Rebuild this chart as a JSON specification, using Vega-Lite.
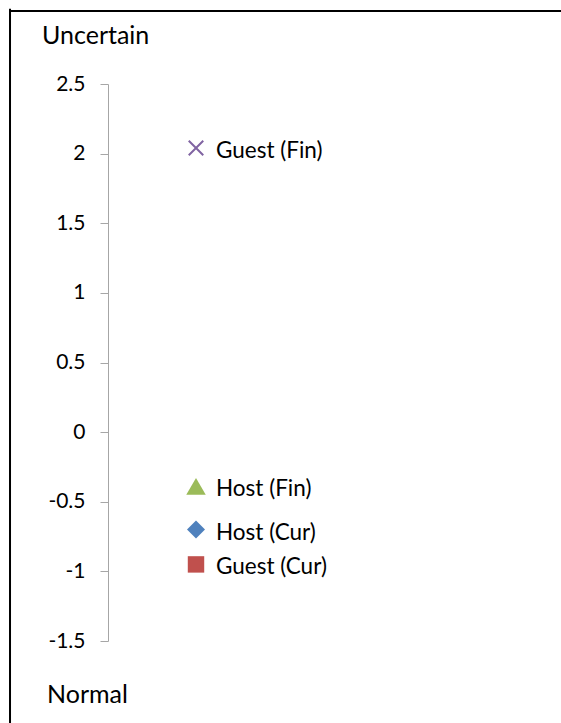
{
  "$schema": "https://vega.github.io/schema/vega-lite/v6.json",
  "width": 440,
  "height": 557,
  "padding": {"left": 108, "top": 84, "right": 13, "bottom": 82},
  "autosize": {"type": "none"},
  "background": "white",
  "config": {"view": {"stroke": null}, "font": "Lato"},
  "datasets": {
    "points": [
      {"series": "Guest (Fin)", "x": 2, "y": 2.04},
      {"series": "Host (Fin)", "x": 2, "y": -0.39},
      {"series": "Host (Cur)", "x": 2, "y": -0.7},
      {"series": "Guest (Cur)", "x": 2, "y": -0.95}
    ],
    "borders": [
      {"x": -2.227, "x2": 10.6, "y": 3.024, "y2": 3.024},
      {"x": -2.227, "x2": -2.227, "y": 3.04, "y2": -2.3}
    ],
    "titles": [
      {"label": "Uncertain", "x": -1.5, "y": 2.787},
      {"label": "Normal", "x": -1.386, "y": -1.942}
    ]
  },
  "encoding": {
    "x": {"field": "x", "type": "quantitative", "scale": {"domain": [0, 10], "nice": false, "zero": false}, "axis": null},
    "y": {"field": "y", "type": "quantitative", "scale": {"domain": [-1.5, 2.5], "nice": false, "zero": false},
      "axis": {"values": [-1.5, -1, -0.5, 0, 0.5, 1, 1.5, 2, 2.5], "grid": false, "title": null,
        "domainColor": "#a6a6a6", "tickColor": "#a6a6a6", "tickSize": 8, "labelPadding": 15,
        "labelFontSize": 21, "labelColor": "black", "labelFont": "Lato", "labelExpr": "'' + datum.value"}}
  },
  "layer": [
    {
      "data": {"name": "borders"},
      "mark": {"type": "rule", "color": "black", "strokeWidth": 2},
      "encoding": {
        "x2": {"field": "x2"},
        "y2": {"field": "y2"}
      }
    },
    {
      "data": {"name": "titles"},
      "mark": {"type": "text", "align": "left", "baseline": "alphabetic", "fontSize": 25, "color": "black"},
      "encoding": {"text": {"field": "label"}}
    },
    {
      "data": {"name": "points"},
      "transform": [{"filter": "datum.series !== 'Guest (Fin)'"}],
      "mark": {"type": "point", "filled": true, "opacity": 1},
      "encoding": {
        "shape": {"field": "series", "type": "nominal", "legend": null,
          "scale": {"domain": ["Host (Fin)", "Host (Cur)", "Guest (Cur)"], "range": ["triangle-up", "diamond", "square"]}},
        "color": {"field": "series", "type": "nominal", "legend": null,
          "scale": {"domain": ["Host (Fin)", "Host (Cur)", "Guest (Cur)", "Guest (Fin)"], "range": ["#9BBB59", "#4F81BD", "#C0504D", "#8064A2"]}},
        "size": {"field": "series", "type": "nominal", "legend": null,
          "scale": {"domain": ["Host (Fin)", "Host (Cur)", "Guest (Cur)"], "range": [380, 270, 250]}}
      }
    },
    {
      "data": {"name": "points"},
      "transform": [{"filter": "datum.series === 'Guest (Fin)'"}],
      "mark": {"type": "point", "filled": false, "shape": "M-1,-1L1,1M-1,1L1,-1", "size": 210, "strokeWidth": 2, "color": "#8064A2", "opacity": 1}
    },
    {
      "data": {"name": "points"},
      "mark": {"type": "text", "align": "left", "baseline": "middle", "dx": 20, "dy": 3, "fontSize": 22.5, "color": "black"},
      "encoding": {"text": {"field": "series"}}
    }
  ]
}
